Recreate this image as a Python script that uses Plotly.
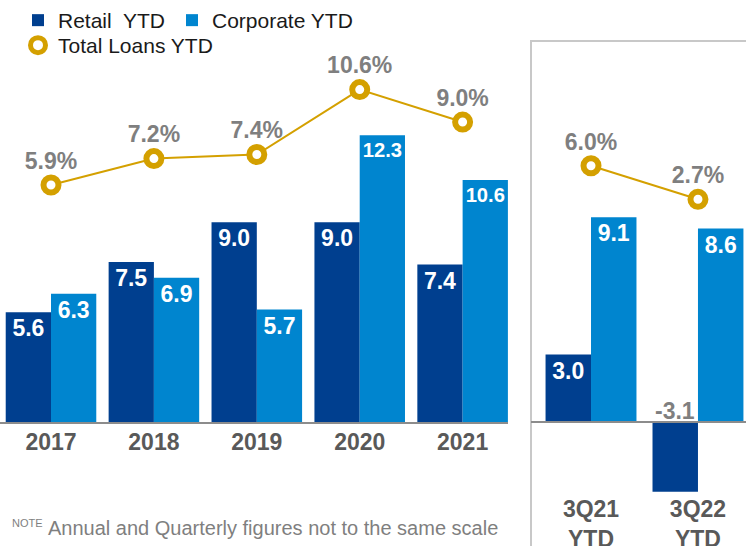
import plotly.graph_objects as go

# ---------------- data ----------------
years = ["2017", "2018", "2019", "2020", "2021"]
retail_annual = [5.6, 7.5, 9.0, 9.0, 7.4]
corporate_annual = [6.3, 6.9, 5.7, 12.3, 10.6]
total_annual = [5.9, 7.2, 7.4, 10.6, 9.0]

quarters = ["3Q21<br>YTD", "3Q22<br>YTD"]
retail_q = [3.0, -3.1]
corporate_q = [9.1, 8.6]
total_q = [6.0, 2.7]

# ---------------- style ----------------
W, H = 746, 546
C_RET = "#003F8F"
C_CORP = "#0085CF"
C_GOLD = "#D4A000"
C_LBL = "#7F7F7F"
C_TICK = "#595959"
FONT = "Liberation Sans, Arial, sans-serif"
BW_L = 0.44
BW_R = 0.425

fig = go.Figure()

bar_text = dict(family=FONT, size=23, color="white", weight="bold")

# Left panel bars
fig.add_trace(go.Bar(
    x=years, y=retail_annual, name="Retail\u00a0 YTD", marker=dict(color=C_RET, line_width=0),
    width=BW_L, offset=-BW_L, texttemplate="%{y:.1f}", textposition="inside",
    insidetextanchor="end", textangle=0, insidetextfont=bar_text,
    xaxis="x", yaxis="y", legend="legend"))
fig.add_trace(go.Bar(
    x=years, y=corporate_annual, name="Corporate YTD", marker=dict(color=C_CORP, line_width=0),
    width=BW_L, offset=0, texttemplate="%{y:.1f}", textposition="inside",
    insidetextanchor="end", textangle=0, insidetextfont=bar_text,
    xaxis="x", yaxis="y", legend="legend3"))

# Right panel bars
fig.add_trace(go.Bar(
    x=quarters, y=retail_q, showlegend=False, marker=dict(color=C_RET, line_width=0),
    width=BW_R, offset=-BW_R, texttemplate="%{y:.1f}",
    textposition=["inside" if v >= 0 else "none" for v in retail_q],
    insidetextanchor="end", textangle=0, insidetextfont=bar_text,
    xaxis="x2", yaxis="y3"))
fig.add_trace(go.Bar(
    x=quarters, y=corporate_q, showlegend=False, marker=dict(color=C_CORP, line_width=0),
    width=BW_R, offset=0, texttemplate="%{y:.1f}", textposition="inside",
    insidetextanchor="end", textangle=0, insidetextfont=bar_text,
    xaxis="x2", yaxis="y3"))

marker_style = dict(symbol="circle", size=15, color="white", line=dict(color=C_GOLD, width=6))
pct_font = dict(family=FONT, size=23, color=C_LBL, weight="bold")

# Total loans line - left
fig.add_trace(go.Scatter(x=years, y=total_annual, mode="lines", showlegend=False,
                         line=dict(color=C_GOLD, width=2), xaxis="x", yaxis="y2", hoverinfo="skip"))
fig.add_trace(go.Scatter(x=years, y=total_annual, mode="markers+text", name="Total Loans YTD",
                         marker=marker_style, texttemplate="%{y:.1f}%", textposition="top center",
                         textfont=pct_font, cliponaxis=False, xaxis="x", yaxis="y2",
                         legend="legend2"))
# Total loans line - right
fig.add_trace(go.Scatter(x=quarters, y=total_q, mode="lines", showlegend=False,
                         line=dict(color=C_GOLD, width=2), xaxis="x2", yaxis="y4", hoverinfo="skip"))
fig.add_trace(go.Scatter(x=quarters, y=total_q, mode="markers+text", showlegend=False,
                         marker=marker_style, texttemplate="%{y:.1f}%", textposition="top center",
                         textfont=pct_font, cliponaxis=False, xaxis="x2", yaxis="y4"))

# labels for negative bars (shown above the zero line)
annotations = []
for i, v in enumerate(retail_q):
    if v < 0:
        annotations.append(dict(x=i - BW_R / 2, y=0, xref="x2", yref="y3", text=f"{v:.1f}",
                                showarrow=False, yanchor="bottom", xanchor="center", yshift=-4,
                                font=dict(family=FONT, size=23, color=C_LBL, weight="bold")))

annotations.append(dict(x=10 / W, y=1 - 523 / H, xref="paper", yref="paper", text="NOTE",
                        showarrow=False, xanchor="left", yanchor="middle",
                        font=dict(family=FONT, size=11, color=C_LBL)))
annotations.append(dict(x=46 / W, y=1 - 528 / H, xref="paper", yref="paper",
                        text="Annual and Quarterly figures not to the same scale",
                        showarrow=False, xanchor="left", yanchor="middle",
                        font=dict(family=FONT, size=20, color=C_LBL)))

axis_base = 124 / H  # paper fraction of the zero/axis line

legend_common = dict(orientation="h", xanchor="left", yanchor="top",
                     font=dict(family=FONT, size=21, color="#1A1A1A"),
                     bgcolor="rgba(0,0,0,0)", traceorder="normal", itemclick=False,
                     indentation=18)

fig.update_layout(
    width=W, height=H, autosize=False,
    margin=dict(l=0, r=0, t=0, b=0, pad=0, autoexpand=False),
    paper_bgcolor="white", plot_bgcolor="rgba(0,0,0,0)",
    barmode="overlay",
    font=dict(family=FONT),
    xaxis=dict(domain=[0, 508 / W], range=[-0.4956, 4.441], type="category",
               showgrid=False, zeroline=False, showline=True, linecolor="#8C8C8C", linewidth=2,
               ticks="", tickfont=dict(family=FONT, size=23, color=C_TICK, weight="bold"),
               ticklabelstandoff=-2, anchor="y", fixedrange=True),
    yaxis=dict(domain=[axis_base, 1], range=[1.44, 17.42], visible=False, anchor="x"),
    yaxis2=dict(overlaying="y", range=[-5.77, 15.01], visible=False, anchor="x"),
    xaxis2=dict(domain=[531 / W, 1], range=[-0.561, 1.449], type="category",
                showgrid=False, zeroline=False, showline=True, linecolor="#8C8C8C", linewidth=2,
                ticks="", tickfont=dict(family=FONT, size=23, color=C_TICK, weight="bold"),
                anchor="free", position=axis_base, ticklabelstandoff=66),
    yaxis3=dict(domain=[0, 1], range=[-5.51, 18.76], visible=False, anchor="x2"),
    yaxis4=dict(overlaying="y3", range=[-31.36, 22.28], visible=False, anchor="x2"),
    legend=dict(x=0, y=1, **legend_common),
    legend3=dict(x=154 / W, y=1, **legend_common),
    legend2=dict(x=0, y=1 - 25 / H, **legend_common),
    shapes=[dict(type="rect", xref="paper", yref="paper", x0=531 / W, x1=1.02, y0=-0.02,
                 y1=1 - 41 / H, line=dict(color="#C8C8C8", width=2), layer="below")],
    annotations=annotations,
)

fig.write_html("out.html", config={"displayModeBar": False},
               post_script="document.body.style.margin='0';document.body.style.overflow='hidden';")
